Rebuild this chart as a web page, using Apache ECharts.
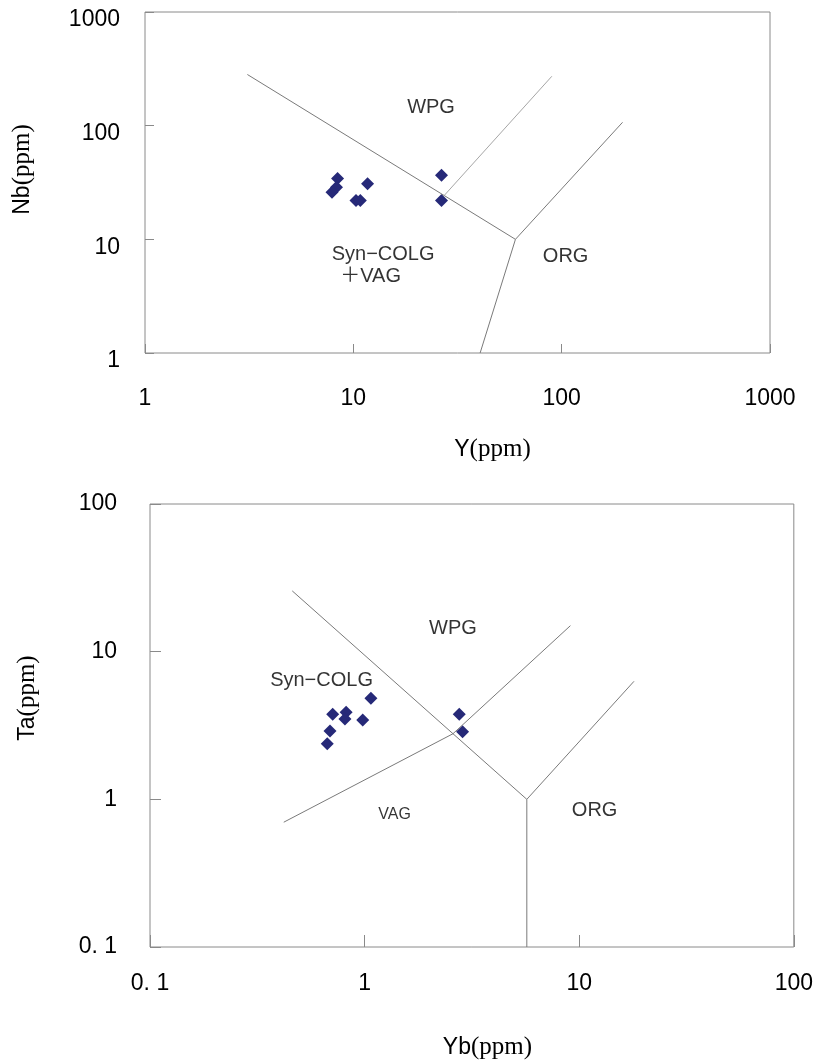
<!DOCTYPE html>
<html>
<head>
<meta charset="utf-8">
<script src="https://cdn.jsdelivr.net/npm/echarts@6/dist/echarts.min.js"></script>
<style>
  html, body { margin: 0; padding: 0; background: #fff; }
  #chart { width: 816px; height: 1062px; }
</style>
</head>
<body>
<div id="chart"></div>
<script>
// ---- Nb–Y discrimination diagram (upper panel) ----
const nbY_Y  = [8.4, 8.3, 7.9, 11.7, 10.3, 10.8, 26.5, 26.5];
const nbY_Nb = [34.3, 28.7, 26.0, 30.8, 22.0, 22.0, 36.7, 22.0];

// field boundaries (Y, Nb)
const nbY_lineVagWpg = [[3.1, 282], [60, 10]];
const nbY_lineVagOrg = [[60, 10], [40.6, 1]];
const nbY_lineWpgOrg = [[60, 10], [196, 107]];
const nbY_lineSynWpg = [[27.3, 24.3], [89.7, 272]];

// field names and their anchor points (Y, Nb)
const nbY_fieldNames = ['WPG', 'Syn−COLG', '＋VAG', 'ORG'];
const nbY_fieldAt    = [[23.6, 144.5], [13.9, 7.36], [12.1, 4.71], [104.5, 7.06]];

const nbY_tickLabels = ['1', '10', '100', '1000'];

// ---- Ta–Yb discrimination diagram (lower panel) ----
const taYb_Yb = [1.07, 0.71, 0.82, 0.81, 0.98, 0.69, 0.67, 2.76, 2.86];
const taYb_Ta = [4.84, 3.77, 3.89, 3.50, 3.45, 2.90, 2.38, 3.77, 2.87];

// field boundaries (Yb, Ta)
const taYb_lineSynWpg = [[0.46, 25.8], [5.7, 1.0]];
const taYb_lineVagOrg = [[5.7, 1.0], [5.7, 0.1]];
const taYb_lineWpgOrg = [[5.7, 1.0], [18, 6.3]];
const taYb_lineVagSyn = [[0.42, 0.70], [2.58, 2.78]];
const taYb_lineSynWpg2 = [[2.58, 2.78], [9.1, 15]];

const taYb_fieldNames = ['WPG', 'Syn−COLG', 'VAG', 'ORG'];
const taYb_fieldAt    = [[2.58, 14.4], [0.63, 6.43], [1.38, 0.79], [11.8, 0.836]];

const taYb_tickLabels = ['0. 1', '1', '10', '100'];

// ---- styling ----
const SANS = 'Liberation Sans, Arial, Noto Sans CJK SC, sans-serif';
const SERIF = 'Liberation Serif, Times New Roman, serif';
const INK = '#000';
const FRAME = '#8a8a8a';
const POINT = '#262978';

function boundary(data, gi, color) {
  return {
    type: 'line', xAxisIndex: gi, yAxisIndex: gi, data: data,
    symbol: 'none', silent: true,
    lineStyle: { color: color || '#7a7a7a', width: 1 }
  };
}

function samples(xs, ys, gi) {
  return {
    type: 'scatter', xAxisIndex: gi, yAxisIndex: gi,
    data: xs.map((x, i) => [x, ys[i]]),
    symbol: 'diamond', symbolSize: 13,
    itemStyle: { color: POINT, opacity: 1 }
  };
}

function fieldLabels(names, at, gi) {
  return {
    type: 'scatter', xAxisIndex: gi, yAxisIndex: gi, silent: true,
    symbolSize: 0,
    data: names.map((n, i) => ({ name: n, value: at[i] })),
    label: {
      show: true, position: 'inside',
      formatter: p => (p.name === 'VAG' ? '{s|' + p.name + '}' : '{n|' + p.name + '}'),
      rich: {
        n: { fontFamily: SANS, fontSize: 20, color: INK },
        s: { fontFamily: SANS, fontSize: 16, color: INK }
      }
    }
  };
}

function axisName(el) {
  return '{a|' + el + '}{b|(ppm)}';
}
const nameRich = {
  a: { fontFamily: SANS, fontSize: 23, color: INK },
  b: { fontFamily: SERIF, fontSize: 25, color: INK }
};

const chart = echarts.init(document.getElementById('chart'), null, { renderer: 'canvas' });

chart.setOption({
  animation: false,
  backgroundColor: '#fff',
  grid: [
    { left: 145, top: 12, width: 625, height: 341, show: true, borderColor: FRAME, borderWidth: 1, containLabel: false },
    { left: 150, top: 504, width: 647, height: 443, show: true, borderColor: FRAME, borderWidth: 1, containLabel: false }
  ],
  xAxis: [
    {
      gridIndex: 0, type: 'log', logBase: 10, min: 1, max: 1000,
      name: axisName('Y'), nameLocation: 'middle', nameGap: 84,
      nameTextStyle: { rich: nameRich, padding: [0, 0, 0, 70] },
      axisLine: { show: false },
      axisTick: { show: true, inside: true, length: 9, lineStyle: { color: FRAME } },
      minorTick: { show: false }, splitLine: { show: false },
      axisLabel: {
        margin: 34, fontFamily: SANS, fontSize: 23, color: INK,
        showMinLabel: true, showMaxLabel: true,
        formatter: v => nbY_tickLabels[Math.round(Math.log10(v))]
      }
    },
    {
      gridIndex: 1, type: 'log', logBase: 10, min: 0.1, max: 100,
      name: axisName('Yb'), nameLocation: 'middle', nameGap: 88,
      nameTextStyle: { rich: nameRich, padding: [0, 0, 0, 31] },
      axisLine: { show: false },
      axisTick: { show: true, inside: true, length: 12, lineStyle: { color: FRAME } },
      minorTick: { show: false }, splitLine: { show: false },
      axisLabel: {
        margin: 25, fontFamily: SANS, fontSize: 23, color: INK,
        showMinLabel: true, showMaxLabel: true,
        formatter: v => taYb_tickLabels[Math.round(Math.log10(v)) + 1]
      }
    }
  ],
  yAxis: [
    {
      gridIndex: 0, type: 'log', logBase: 10, min: 1, max: 1000,
      name: axisName('Nb'), nameLocation: 'middle', nameGap: 110,
      nameTextStyle: { rich: nameRich, padding: [0, 0, 0, 26] },
      axisLine: { show: false },
      axisTick: { show: true, inside: true, length: 9, lineStyle: { color: FRAME } },
      minorTick: { show: false }, splitLine: { show: false },
      axisLabel: {
        margin: 25, fontFamily: SANS, fontSize: 23, color: INK,
        verticalAlign: 'top', lineHeight: 16,
        showMinLabel: true, showMaxLabel: true,
        formatter: v => nbY_tickLabels[Math.round(Math.log10(v))]
      }
    },
    {
      gridIndex: 1, type: 'log', logBase: 10, min: 0.1, max: 100,
      name: axisName('Ta'), nameLocation: 'middle', nameGap: 110,
      nameTextStyle: { rich: nameRich, padding: [0, 0, 0, 55] },
      axisLine: { show: false },
      axisTick: { show: true, inside: true, length: 11, lineStyle: { color: FRAME } },
      minorTick: { show: false }, splitLine: { show: false },
      axisLabel: {
        margin: 33, fontFamily: SANS, fontSize: 23, color: INK,
        showMinLabel: true, showMaxLabel: true,
        formatter: v => taYb_tickLabels[Math.round(Math.log10(v)) + 1]
      }
    }
  ],
  series: [
    boundary(nbY_lineVagWpg, 0),
    boundary(nbY_lineVagOrg, 0),
    boundary(nbY_lineWpgOrg, 0),
    boundary(nbY_lineSynWpg, 0, '#a6a6a6'),
    fieldLabels(nbY_fieldNames, nbY_fieldAt, 0),
    samples(nbY_Y, nbY_Nb, 0),

    boundary(taYb_lineSynWpg, 1),
    boundary(taYb_lineVagOrg, 1),
    boundary(taYb_lineWpgOrg, 1),
    boundary(taYb_lineVagSyn, 1),
    boundary(taYb_lineSynWpg2, 1),
    fieldLabels(taYb_fieldNames, taYb_fieldAt, 1),
    samples(taYb_Yb, taYb_Ta, 1)
  ]
});
</script>
</body>
</html>
